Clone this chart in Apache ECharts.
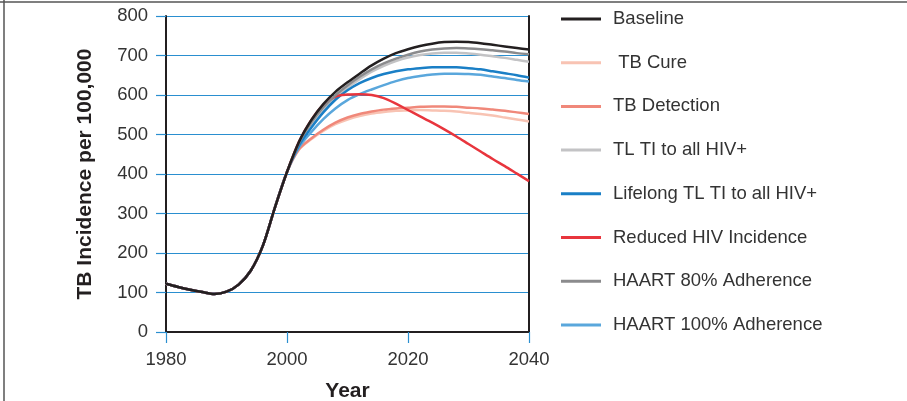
<!DOCTYPE html>
<html>
<head>
<meta charset="utf-8">
<script src="https://cdn.jsdelivr.net/npm/echarts@6/dist/echarts.min.js"></script>
<style>
html,body{margin:0;padding:0;background:#fff;}
#chart{width:907px;height:401px;}
</style>
</head>
<body>
<div id="chart"></div>
<script>
const years = [1980,1982,1984,1986,1988,1990,1992,1994,1996,1998,2000,2002,2004,2006,2008,2010,2012,2014,2016,2018,2020,2022,2024,2026,2028,2030,2032,2034,2036,2038,2040];
const baseline     = [122,114,107,101,96,102,120,155,218,315,405,482,536,577,608,632,654,675,692,706,716,724,730,734,735,734,731,727,723,719,715];
const tbCure       = [122,114,107,101,96,102,120,155,218,315,405,462,488,509,526,538,547,553,557,560,561,562,561,560,558,555,552,548,543,538,533];
const tbDetection  = [122,114,107,101,96,102,120,155,218,315,405,463,490,512,530,543,552,558,563,566,568,570,571,571,570,568,566,563,560,556,552];
const tlTi         = [122,114,107,101,96,102,120,155,218,315,405,477,526,565,595,619,640,659,674,686,695,701,705,707,707,705,702,698,694,689,684];
const lifelongTlTi = [122,114,107,101,96,102,120,155,218,315,405,473,517,556,588,612,630,643,653,660,665,668,670,670,670,668,665,660,655,650,644];
const reducedHiv   = [122,114,107,101,96,102,120,155,218,315,405,482,536,575,596,601,602,600,592,578,562,546,530,513,495,476,457,438,420,401,382];
const haart80      = [122,114,107,101,96,102,120,155,218,315,405,479,530,569,599,624,646,665,680,692,702,710,715,718,719,718,716,713,710,706,703];
const haart100     = [122,114,107,101,96,102,120,155,218,315,405,468,506,539,566,587,602,614,625,635,643,648,652,654,654,653,651,647,643,638,634];
const yTicks = [0,100,200,300,400,500,600,700,800];
const xTicks = [1980,2000,2020,2040];

const seriesDefs = [
  {name:'Baseline', data:baseline, color:'#231f20', z:10},
  {name:' TB Cure', data:tbCure, color:'#f8c3b3', z:3},
  {name:'TB Detection', data:tbDetection, color:'#f0887a', z:4},
  {name:'TL TI to all HIV+', data:tlTi, color:'#c3c3c5', z:5},
  {name:'Lifelong TL TI to all HIV+', data:lifelongTlTi, color:'#1a7fc6', z:6},
  {name:'Reduced HIV Incidence', data:reducedHiv, color:'#e8353d', z:7},
  {name:'HAART 80% Adherence', data:haart80, color:'#8b8b8d', z:8},
  {name:'HAART 100% Adherence', data:haart100, color:'#5aa7dc', z:5}
];

const chart = echarts.init(document.getElementById('chart'));
const labelFont = {fontFamily:'Liberation Sans, Arial, sans-serif', fontSize:18.5, color:'#333'};
chart.setOption({
  animation:false,
  backgroundColor:'#fff',
  grid:{left:166, right:378, top:16, bottom:69, outerBoundsMode:'none', containLabel:false},
  legend:{
    orient:'vertical', left:561, top:9, padding:0, itemWidth:40, itemHeight:3, itemGap:23.7,
    icon:'rect',
    data: seriesDefs.map(s=>s.name),
    textStyle:{fontFamily:'Liberation Sans, Arial, sans-serif', fontSize:18.5, color:'#333', lineHeight:20, padding:[0,0,0,7]}
  },
  graphic:[
    {type:'line', shape:{x1:0,y1:2,x2:907,y2:2}, style:{stroke:'#555', lineWidth:1.5}},
    {type:'line', shape:{x1:4,y1:0,x2:4,y2:401}, style:{stroke:'#555', lineWidth:1.5}}
  ],
  xAxis:{
    type:'value', min:xTicks[0], max:xTicks[xTicks.length-1], interval:20,
    name:'Year', nameLocation:'middle', nameGap:49,
    nameTextStyle:{fontFamily:'Liberation Sans, Arial, sans-serif', fontSize:21, fontWeight:'bold', color:'#231f20'},
    axisLine:{show:true, lineStyle:{color:'#231f20', width:2}},
    axisTick:{show:true, length:11, lineStyle:{color:'#2a8fd0', width:1.2}},
    axisLabel:Object.assign({margin:18, formatter:v=>String(v)}, labelFont),
    splitLine:{show:false}
  },
  yAxis:[{
    type:'value', min:yTicks[0], max:yTicks[yTicks.length-1], interval:100,
    name:'TB Incidence per 100,000', nameLocation:'middle', nameGap:70,
    nameTextStyle:{fontFamily:'Liberation Sans, Arial, sans-serif', fontSize:21, fontWeight:'bold', color:'#231f20'},
    axisLine:{show:true, lineStyle:{color:'#231f20', width:2}},
    axisTick:{show:true, length:10, lineStyle:{color:'#2a8fd0', width:1.2}},
    axisLabel:Object.assign({margin:18}, labelFont),
    splitLine:{show:true, lineStyle:{color:'#2a8fd0', width:1.2}}
  },{
    type:'value', position:'right', min:0, max:800, interval:100,
    axisLine:{show:true, lineStyle:{color:'#231f20', width:2}},
    axisTick:{show:false}, axisLabel:{show:false}, splitLine:{show:false}
  }],
  series: seriesDefs.map(s=>({
    name:s.name, type:'line', smooth:0.3, showSymbol:false, symbol:'none', z:s.z,
    data: years.map((y,i)=>[y, s.data[i]]),
    lineStyle:{color:s.color, width:2.5},
    itemStyle:{color:s.color}
  }))
});
</script>
</body>
</html>
